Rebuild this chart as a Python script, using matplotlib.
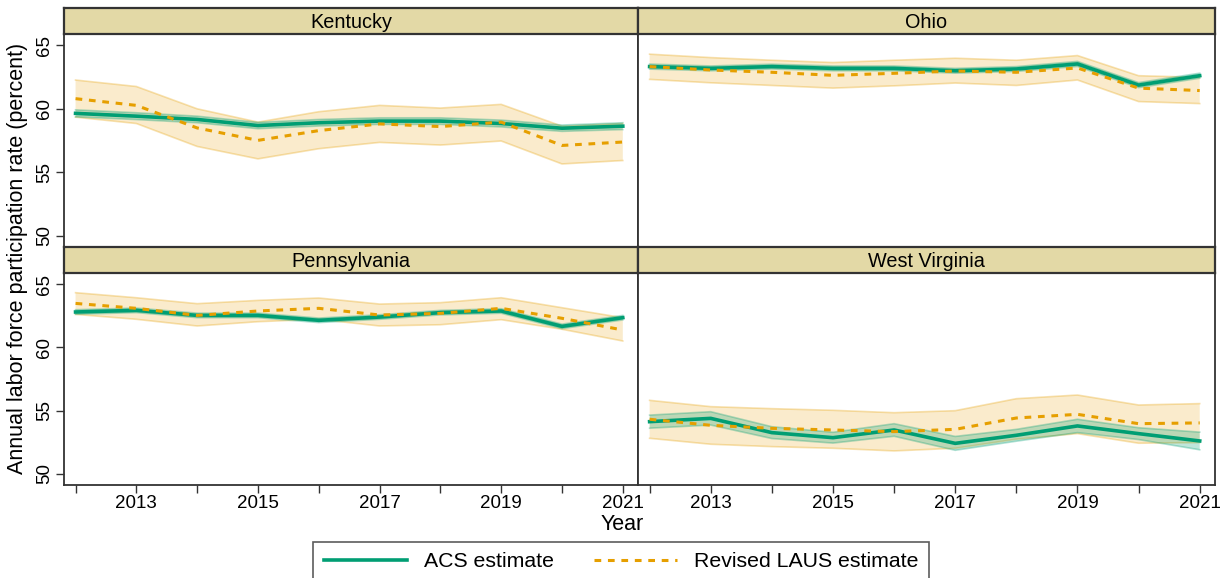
import matplotlib
matplotlib.use("Agg")
import matplotlib.pyplot as plt
from matplotlib.lines import Line2D
import numpy as np

plt.rcParams['font.family'] = ['Liberation Sans', 'DejaVu Sans']

years = [2012, 2013, 2014, 2015, 2016, 2017, 2018, 2019, 2020, 2021]
states = ["Kentucky", "Ohio", "Pennsylvania", "West Virginia"]

# ACS estimate and its confidence band
acs = {
    "Kentucky":      [59.64, 59.42, 59.16, 58.68, 58.90, 59.03, 59.03, 58.84, 58.47, 58.63],
    "Ohio":          [63.33, 63.19, 63.33, 63.19, 63.19, 63.00, 63.14, 63.54, 61.87, 62.61],
    "Pennsylvania":  [62.81, 62.94, 62.54, 62.54, 62.15, 62.41, 62.76, 62.89, 61.67, 62.36],
    "West Virginia": [54.12, 54.38, 53.25, 52.85, 53.46, 52.40, 53.04, 53.78, 53.17, 52.59],
}
acs_moe = {
    "Kentucky":      [0.28, 0.27, 0.26, 0.25, 0.26, 0.26, 0.26, 0.27, 0.25, 0.27],
    "Ohio":          [0.20, 0.19, 0.19, 0.19, 0.19, 0.19, 0.19, 0.20, 0.20, 0.20],
    "Pennsylvania":  [0.18, 0.18, 0.18, 0.18, 0.18, 0.18, 0.18, 0.18, 0.18, 0.18],
    "West Virginia": [0.52, 0.53, 0.47, 0.43, 0.50, 0.55, 0.47, 0.53, 0.47, 0.70],
}
# Revised LAUS estimate and its band
laus = {
    "Kentucky":      [60.80, 60.27, 58.49, 57.51, 58.28, 58.81, 58.60, 58.95, 57.11, 57.38],
    "Ohio":          [63.33, 63.06, 62.88, 62.64, 62.80, 62.98, 62.88, 63.22, 61.63, 61.44],
    "Pennsylvania":  [63.49, 63.10, 62.54, 62.89, 63.10, 62.57, 62.70, 63.10, 62.31, 61.38],
    "West Virginia": [54.31, 53.83, 53.59, 53.46, 53.33, 53.51, 54.41, 54.70, 53.96, 54.02],
}
laus_hi = {
    "Kentucky":      [62.27, 61.76, 60.00, 58.95, 59.77, 60.27, 60.06, 60.35, 58.63, 58.84],
    "Ohio":          [64.31, 64.04, 63.83, 63.65, 63.83, 63.99, 63.83, 64.20, 62.61, 62.48],
    "Pennsylvania":  [64.34, 63.94, 63.47, 63.73, 63.92, 63.44, 63.55, 63.94, 63.15, 62.36],
    "West Virginia": [55.81, 55.31, 55.15, 55.02, 54.83, 54.99, 55.94, 56.23, 55.44, 55.55],
}
laus_lo = {
    "Kentucky":      [59.34, 58.84, 57.03, 56.05, 56.85, 57.35, 57.14, 57.46, 55.65, 55.92],
    "Ohio":          [62.32, 62.05, 61.84, 61.63, 61.81, 62.03, 61.84, 62.27, 60.57, 60.41],
    "Pennsylvania":  [62.62, 62.23, 61.70, 62.04, 62.23, 61.70, 61.80, 62.20, 61.44, 60.51],
    "West Virginia": [52.80, 52.33, 52.14, 52.01, 51.80, 52.01, 52.73, 53.17, 52.41, 52.46],
}

yticks = [50, 55, 60, 65]
xticks_major = [2013, 2015, 2017, 2019, 2021]

GREEN = "#009E73"
ORANGE = "#E69F00"
STRIP = "#E3D9A6"
FRAME = "#333333"

W, H = 1228, 578
fig = plt.figure(figsize=(W / 100, H / 100), dpi=100)

def fx(px):
    return px / W

def fy(py):
    return 1 - py / H

cols = [(64, 638), (638, 1215)]
rows = [(8, 34, 247), (247, 273, 485)]

for i, st in enumerate(states):
    r, c = divmod(i, 2)
    x0, x1 = cols[c]
    s0, p0, p1 = rows[r]
    ax = fig.add_axes([fx(x0), fy(p1), fx(x1 - x0), fy(p0) - fy(p1)])
    sax = fig.add_axes([fx(x0), fy(p0), fx(x1 - x0), fy(s0) - fy(p0)])

    y = np.array(years)
    a = np.array(acs[st]); m = np.array(acs_moe[st])
    ax.fill_between(y, laus_lo[st], laus_hi[st], facecolor=ORANGE, alpha=0.2,
                    edgecolor="none", zorder=1)
    ax.plot(y, laus_hi[st], color=ORANGE, alpha=0.3, lw=1.2, zorder=1)
    ax.plot(y, laus_lo[st], color=ORANGE, alpha=0.3, lw=1.2, zorder=1)
    ax.fill_between(y, a - m, a + m, facecolor=GREEN, alpha=0.25,
                    edgecolor="none", zorder=2)
    ax.plot(y, a - m, color=GREEN, alpha=0.3, lw=1.2, zorder=2)
    ax.plot(y, a + m, color=GREEN, alpha=0.3, lw=1.2, zorder=2)
    ax.plot(y, acs[st], color=GREEN, lw=2.6, zorder=3)
    ax.plot(y, laus[st], color=ORANGE, lw=2.2, ls=(0, (2.2, 2.2)), zorder=4)

    ax.set_xlim(2011.81, 2021.25)
    ax.set_ylim(49.1, 65.9)
    for sp in ax.spines.values():
        sp.set_color(FRAME)
        sp.set_linewidth(1.3)
    ax.set_xticks(years)
    ax.set_xticklabels([str(v) if v in xticks_major else "" for v in years])
    ax.set_yticks(yticks)
    ax.set_yticklabels([str(v) for v in yticks], rotation=90, va="center")
    ax.tick_params(axis="both", direction="out", length=6, width=1,
                   color=FRAME, labelsize=13.5)
    ax.tick_params(axis="x", pad=1.5)
    ax.tick_params(axis="y", pad=2)
    if r == 0:
        ax.tick_params(axis="x", bottom=False, labelbottom=False)
    if c == 1:
        ax.tick_params(axis="y", left=False, labelleft=False)

    sax.set_facecolor(STRIP)
    sax.set_xticks([]); sax.set_yticks([])
    for sp in sax.spines.values():
        sp.set_color(FRAME)
        sp.set_linewidth(1.6)
    sax.text(0.5, 0.45, st, transform=sax.transAxes, ha="center", va="center",
             fontsize=14.3, color="black")

fig.text(fx(18), fy(258), "Annual labor force participation rate (percent)",
         rotation=90, ha="center", va="center", fontsize=15.5)
fig.text(fx(622), fy(524), "Year", ha="center", va="center", fontsize=15.5)

handles = [Line2D([], [], color=GREEN, lw=2.6),
           Line2D([], [], color=ORANGE, lw=2.2, ls=(0, (2.2, 2.2)))]
leg = fig.legend(handles, ["ACS estimate", "Revised LAUS estimate"],
                 loc="upper center", bbox_to_anchor=(fx(621), fy(531)),
                 ncol=2, frameon=True, fancybox=False, fontsize=15.3,
                 handlelength=3.9, columnspacing=1.9, borderpad=0.5,
                 handletextpad=0.8)
leg.get_frame().set_edgecolor(FRAME)
leg.get_frame().set_linewidth(1.2)

fig.savefig("out.png", dpi=100)
